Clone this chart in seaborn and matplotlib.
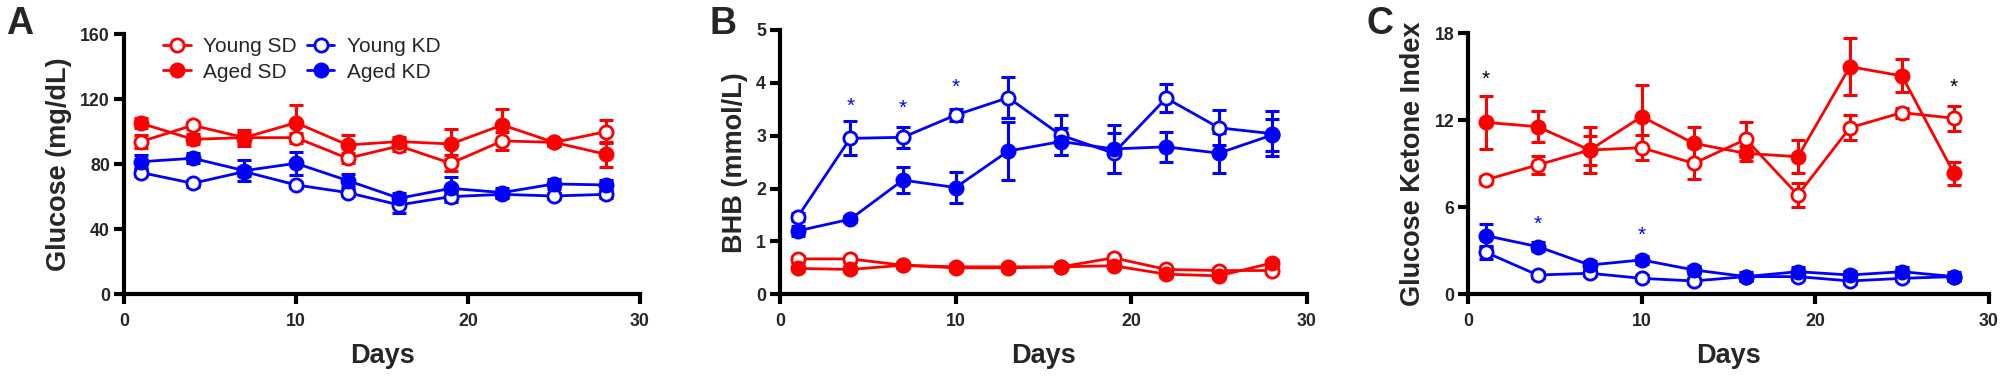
import numpy as np
import pandas as pd
import matplotlib
matplotlib.use("Agg")
import matplotlib.pyplot as plt
import seaborn as sns

sns.set_style("ticks")
plt.rcParams["font.family"] = ["Liberation Sans", "DejaVu Sans"]

DAYS = [1, 4, 7, 10, 13, 16, 19, 22, 25, 28]
GROUPS = ["Young SD", "Aged SD", "Young KD", "Aged KD"]

# Panel A: Glucose (mg/dL)
GLU_YSD = [94, 104, 96.4, 96.4, 83.7, 91.3, 80.6, 94.4, 93.5, 100]
GLU_ASD = [105.2, 95.4, 96.4, 105.6, 91.9, 94, 92.5, 104.2, 93.5, 86.2]
GLU_YKD = [74.9, 68.3, 75.5, 67.3, 62.6, 55, 60.1, 61.5, 60.5, 61.5]
GLU_AKD = [81.6, 83.7, 76.1, 80.6, 70, 59.1, 65.2, 62.6, 67.9, 67.3]
GLU_YSD_ERR = [4, 2, 3, 3, 3, 3, 5, 5.5, 2, 7]
GLU_ASD_ERR = [3, 3, 5, 11, 6, 3, 9.5, 9.6, 2, 7.6]
GLU_YKD_ERR = [2, 2, 3, 2, 2, 5, 3, 2, 2, 2]
GLU_AKD_ERR = [4, 3, 6.3, 7, 4, 3, 6.8, 3, 3, 3]

# Panel B: BHB (mmol/L)
BHB_YSD = [0.67, 0.67, 0.55, 0.52, 0.52, 0.52, 0.69, 0.47, 0.45, 0.45]
BHB_ASD = [0.49, 0.47, 0.55, 0.50, 0.50, 0.52, 0.54, 0.38, 0.35, 0.59]
BHB_YKD = [1.46, 2.95, 2.97, 3.39, 3.72, 3.01, 2.67, 3.71, 3.15, 3.04]
BHB_AKD = [1.20, 1.42, 2.16, 2.02, 2.71, 2.89, 2.75, 2.79, 2.67, 3.01]
BHB_YSD_ERR = [0.05] * 10
BHB_ASD_ERR = [0.05] * 10
BHB_YKD_ERR = [0.08, 0.32, 0.2, 0.11, 0.39, 0.38, 0.38, 0.27, 0.33, 0.42]
BHB_AKD_ERR = [0.1, 0.06, 0.25, 0.3, 0.55, 0.25, 0.45, 0.28, 0.38, 0.3]

# Panel C: Glucose Ketone Index
GKI_YSD = [7.89, 8.92, 9.95, 10.11, 9.03, 10.69, 6.85, 11.49, 12.53, 12.14]
GKI_ASD = [11.86, 11.56, 9.95, 12.25, 10.41, 9.72, 9.49, 15.7, 15.06, 8.34]
GKI_YKD = [2.90, 1.33, 1.45, 1.10, 0.92, 1.22, 1.22, 0.92, 1.10, 1.22]
GKI_AKD = [4.05, 3.29, 2.02, 2.37, 1.68, 1.22, 1.56, 1.33, 1.56, 1.22]
GKI_YSD_ERR = [0.3, 0.6, 1.0, 0.86, 1.1, 1.2, 0.83, 0.85, 0.35, 0.85]
GKI_ASD_ERR = [1.82, 1.05, 1.6, 2.2, 1.15, 0.5, 1.15, 1.96, 1.14, 0.78]
GKI_YKD_ERR = [0.45, 0.2, 0.2, 0.2, 0.2, 0.2, 0.2, 0.2, 0.2, 0.2]
GKI_AKD_ERR = [0.8, 0.3, 0.3, 0.3, 0.3, 0.3, 0.3, 0.3, 0.3, 0.3]

# Significance marks: (day, y, color)
STARS_B = [(4, 3.55, "blue"), (7, 3.52, "blue"), (10, 3.91, "blue")]
STARS_C = [(1, 14.8, "black"), (4, 4.85, "blue"), (10, 4.09, "blue"), (28, 14.3, "black")]

COLORS = {"Young SD": "#ff0000", "Aged SD": "#ff0000", "Young KD": "#0000ff", "Aged KD": "#0000ff"}
FILLED = {"Young SD": False, "Aged SD": True, "Young KD": False, "Aged KD": True}

panels = [
    dict(vals=[GLU_YSD, GLU_ASD, GLU_YKD, GLU_AKD], errs=[GLU_YSD_ERR, GLU_ASD_ERR, GLU_YKD_ERR, GLU_AKD_ERR],
         ylim=160, yticks=[0, 40, 80, 120, 160], ylabel="Glucose (mg/dL)", letter="A",
         rect=[124, 34.3, 640, 294.3], stars=[]),
    dict(vals=[BHB_YSD, BHB_ASD, BHB_YKD, BHB_AKD], errs=[BHB_YSD_ERR, BHB_ASD_ERR, BHB_YKD_ERR, BHB_AKD_ERR],
         ylim=5, yticks=[0, 1, 2, 3, 4, 5], ylabel="BHB (mmol/L)", letter="B",
         rect=[780, 30, 1306.7, 294.3], stars=STARS_B),
    dict(vals=[GKI_YSD, GKI_ASD, GKI_YKD, GKI_AKD], errs=[GKI_YSD_ERR, GKI_ASD_ERR, GKI_YKD_ERR, GKI_AKD_ERR],
         ylim=18, yticks=[0, 6, 12, 18], ylabel="Glucose Ketone Index", letter="C",
         rect=[1468.3, 33.3, 1988.7, 294.3], stars=STARS_C),
]
LETTER_X = [6, 709, 1366]

W, H = 2007, 380
fig = plt.figure(figsize=(W / 100, H / 100), dpi=100)

for i, p in enumerate(panels):
    x0, y0, x1, y1 = p["rect"]
    ax = fig.add_axes([x0 / W, 1 - y1 / H, (x1 - x0) / W, (y1 - y0) / H])
    for g, v, e in zip(GROUPS, p["vals"], p["errs"]):
        c = COLORS[g]
        ax.errorbar(DAYS, v, yerr=e, fmt="none", ecolor=c, elinewidth=2.2,
                    capsize=5, capthick=2.2, zorder=1.5)
        sns.lineplot(x=DAYS, y=v, ax=ax, color=c, linewidth=2.0, marker="o",
                     markersize=9.5, markerfacecolor=(c if FILLED[g] else "white"),
                     markeredgecolor=c, markeredgewidth=2.0, label=g, errorbar=None,
                     zorder=2)
    for (d, yv, sc) in p["stars"]:
        ax.text(d, yv, "*", color=sc, fontsize=15, ha="center", va="center")
    ax.set_xlim(0, 30)
    ax.set_ylim(0, p["ylim"])
    ax.set_xticks([0, 10, 20, 30])
    ax.set_yticks(p["yticks"])
    for s in ["top", "right"]:
        ax.spines[s].set_visible(False)
    for s in ["left", "bottom"]:
        ax.spines[s].set_linewidth(3)
        ax.spines[s].set_color("black")
    ax.tick_params(axis="both", width=3, length=7, color="black", labelsize=12.8)
    ax.tick_params(axis="x", pad=6.5)
    ax.tick_params(axis="y", pad=3)
    for lab in ax.get_xticklabels() + ax.get_yticklabels():
        lab.set_fontweight("bold")
    ax.set_xlabel("Days", fontsize=19.5, fontweight="bold", labelpad=9.5)
    ax.set_ylabel(p["ylabel"], fontsize=19.5, fontweight="bold", labelpad=6)
    ax.set_facecolor("none")
    if i == 0:
        ax.legend(ncol=2, loc="upper left", bbox_to_anchor=(153 / W, 1 - 27 / H),
                  bbox_transform=fig.transFigure, frameon=False, fontsize=15,
                  handlelength=1.3, handletextpad=0.6, columnspacing=0.5,
                  labelspacing=0.3, borderpad=0)
    else:
        lg = ax.get_legend()
        if lg is not None:
            lg.remove()
    fig.text(LETTER_X[i] / W, 1 - 6 / H, p["letter"], fontsize=27, fontweight="bold",
             ha="left", va="top")

fig.savefig("out.png", dpi=100)
